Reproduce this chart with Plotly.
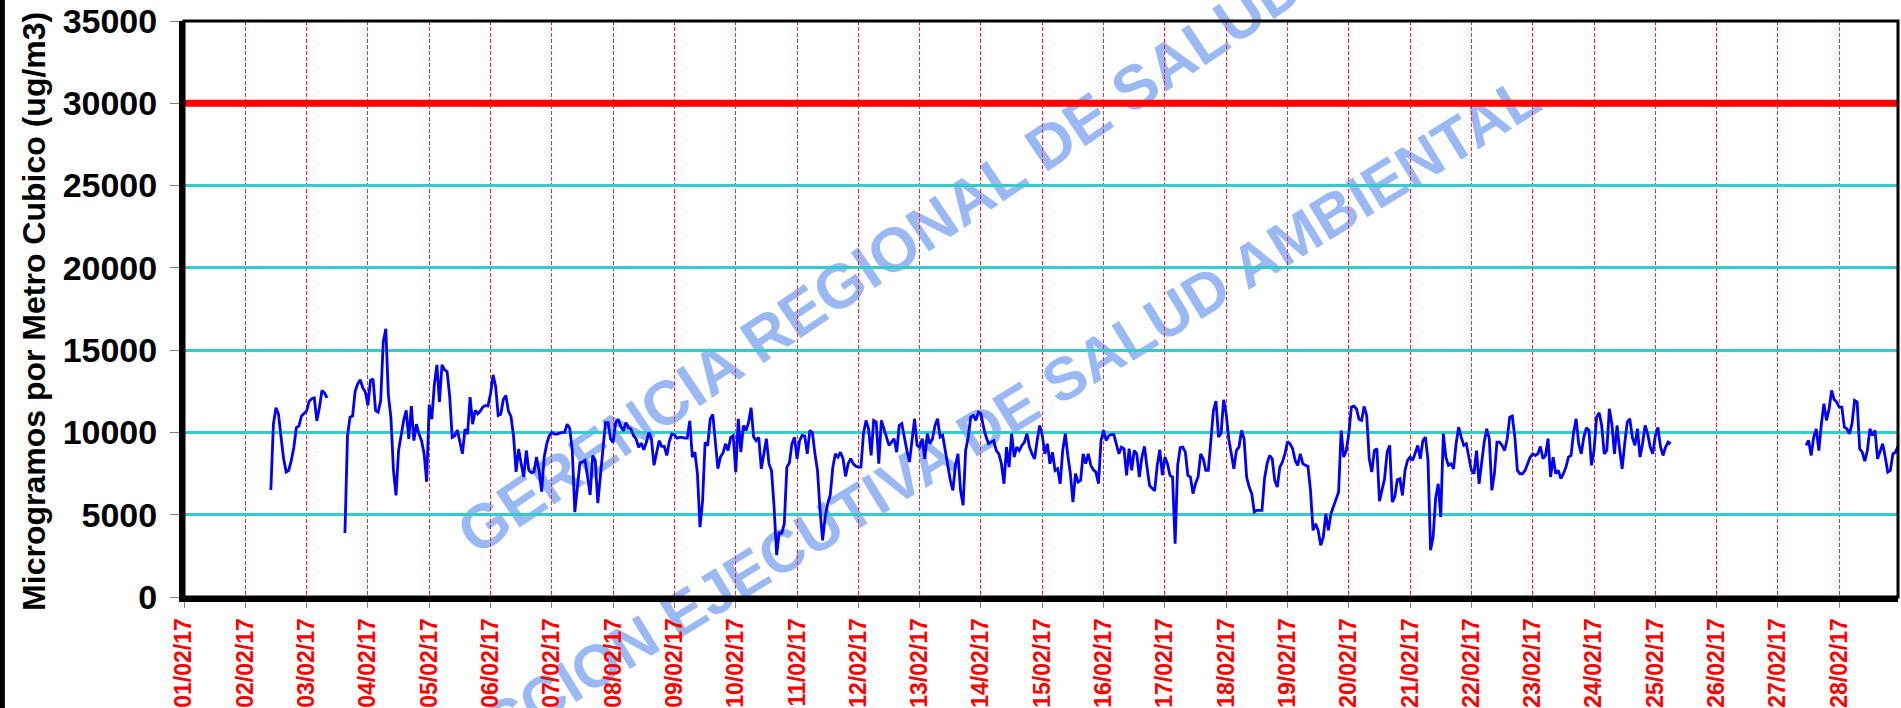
import pandas as pd
import plotly.graph_objects as go

# ---------------- data ----------------
y_title = "Microgramos por Metro Cubico (ug/m3)"
y_tick_values = [0, 5000, 10000, 15000, 20000, 25000, 30000, 35000]
day_ticks = ["2017-02-%02d" % d for d in range(1, 29)]
day_labels = ["01/02/17", "02/02/17", "03/02/17", "04/02/17", "05/02/17", "06/02/17", "07/02/17",
              "08/02/17", "09/02/17", "10/02/17", "11/02/17", "12/02/17", "13/02/17", "14/02/17",
              "15/02/17", "16/02/17", "17/02/17", "18/02/17", "19/02/17", "20/02/17", "21/02/17",
              "22/02/17", "23/02/17", "24/02/17", "25/02/17", "26/02/17", "27/02/17", "28/02/17"]
x_range = ["2017-02-01 00:00", "2017-02-28 23:00"]
limit_value = 30000
watermark_texts = ["GERENCIA REGIONAL DE SALUD", "DIRECCION EJECUTIVA DE SALUD AMBIENTAL"]

# hourly concentrations, segment 1 (02/02 10:00 - 03/02 08:00)
seg1_start = "2017-02-02 10:00"
seg1_values = [6500, 10500, 11500, 11100, 9700, 8400, 7600, 7700, 8300, 9100, 10300, 10400, 11000, 11130,
               11300, 11900, 12050, 12100, 10700, 11500, 12550, 12400, 12100]

# segment 2 (03/02 15:00 - 25/02 06:00)
seg2_start = "2017-02-03 15:00"
seg2_values = (
    [3890, 9800, 10930, 11000, 12500, 12950, 13200, 12700, 12450] +
    [11640, 13150, 13260, 11340, 11230, 11940, 15500, 16300, 12300, 10900, 7700, 6170, 8900, 9820, 10730, 11340, 9600, 11600, 9500, 10500, 9900, 9500, 8700, 7000] +
    [11700, 10800, 12900, 14100, 11850, 14100, 13800, 13700, 12200, 9700, 9800, 10150, 9300, 8700, 10200, 9900, 12150, 10500, 11340, 11130, 11300, 11540, 11640, 11600] +
    [12350, 13500, 12800, 11030, 11100, 12000, 12250, 11300, 10970, 9800, 7600, 9000, 8100, 7300, 8900, 7700, 7550, 7600, 8500, 7700, 6400, 8500, 9300, 9800] +
    [10000, 9900, 9900, 9950, 10000, 10000, 10500, 10250, 8900, 5160, 6880, 8150, 8200, 8300, 7300, 6200, 8600, 8300, 5700, 7200, 9000, 10600, 10600, 9600] +
    [9400, 10600, 10800, 10350, 10100, 10600, 10300, 10200, 9800, 9600, 9100, 9350, 8950, 9400, 10000, 9600, 8000, 8800, 9500, 9150, 9150, 8600, 9450, 9900] +
    [9850, 9650, 9700, 9700, 9650, 9650, 10700, 8500, 8800, 7490, 4250, 5800, 9400, 9200, 10800, 11100, 9400, 7800, 8500, 8750, 9310, 8900, 9700, 9800] +
    [7590, 10830, 8800, 10420, 10120, 10600, 11500, 9720, 9500, 9700, 7790, 8700, 9620, 8100, 7690, 5500, 2550, 3900, 3880, 4450, 7890, 8150, 9310, 9700] +
    [8400, 9500, 9820, 9780, 8700, 10120, 10000, 8700, 7690, 5260, 3440, 4860, 5670, 6200, 7890, 8700, 8500, 8800, 8400, 7330, 8100, 8400, 8100, 7940] +
    [7890, 7890, 9920, 10730, 10220, 8600, 10730, 10630, 8100, 10730, 10220, 9720, 9210, 9410, 9620, 8800, 10420, 10530, 9620, 8900, 8200, 9620, 10830, 9210] +
    [9110, 9620, 8400, 9920, 9310, 9600, 10420, 10830, 9720, 9820, 8900, 8100, 7090, 6480, 8000, 8700, 6480, 5570, 8900, 9720, 10930, 11030, 10730, 11230] +
    [11130, 10320, 9720, 9310, 9410, 9500, 8900, 8700, 8100, 6880, 9110, 7890, 9920, 8500, 9110, 8900, 9210, 9410, 9920, 9110, 8700, 8400, 9520, 10420] +
    [9820, 8700, 9310, 8100, 8800, 7690, 7800, 6880, 8900, 9920, 8600, 7490, 5770, 7490, 6990, 7090, 8700, 8100, 8700, 8000, 7730, 7590, 6880, 9510] +
    [10120, 9510, 9800, 9870, 9880, 9310, 8700, 9110, 9000, 7390, 9010, 7690, 8900, 8700, 7290, 8500, 9150, 7890, 6780, 6600, 6450, 8000, 8950, 7400] +
    [8500, 8100, 7390, 7290, 3240, 8000, 9070, 9110, 8800, 7390, 7290, 6280, 6900, 7290, 8700, 8400, 7690, 7690, 9720, 11340, 11900, 9720, 9950, 11980] +
    [11130, 9600, 8700, 7790, 8900, 9110, 10120, 9620, 7290, 6680, 6280, 5160, 5260, 5260, 5260, 7190, 8100, 8600, 8400, 7090, 6680, 7890, 8200, 8700] +
    [9450, 9310, 9010, 8300, 8000, 8700, 8100, 8000, 7940, 6480, 4050, 4450, 4050, 3140, 3640, 5060, 4050, 5060, 5470, 5870, 6380, 10120, 8500, 8900] +
    [9920, 11540, 11600, 11440, 10800, 10730, 11580, 11030, 8400, 7590, 8900, 9010, 5820, 6500, 7190, 8800, 9210, 5770, 6080, 7130, 7190, 6170, 7690, 8300] +
    [8500, 8300, 8700, 9210, 8400, 9510, 9720, 8300, 2840, 3640, 6000, 6880, 4860, 9920, 8500, 8000, 8100, 7790, 9310, 10320, 9720, 9210, 9310, 8500] +
    [7690, 7490, 8900, 6880, 8100, 9410, 10220, 9620, 6480, 7500, 9410, 9410, 9210, 8900, 9600, 10930, 11000, 9720, 7690, 7490, 7490, 7690, 8100, 8500] +
    [8700, 8600, 8700, 9150, 8400, 8600, 9620, 7290, 8500, 7490, 7690, 7190, 7490, 7890, 8500, 8600, 10000, 10830, 9310, 8700, 9700, 10280, 10120, 8000] +
    [8900, 10930, 11200, 10420, 8700, 8900, 11440, 10500, 8700, 10420, 9000, 7790, 9310, 10630, 10830, 9700, 9210, 10220, 8500, 9310, 10420, 9920, 9110, 8700] +
    [9800, 10300, 9150, 8600, 9100, 9410, 9310]
)

# segment 3 (27/02 11:00 - 28/02 23:00)
seg3_start = "2017-02-27 11:00"
seg3_values = [9210, 9510, 8600, 9720, 10220, 8900, 10500, 11740, 10730, 11400,
               12550, 12000, 11840, 11540, 11540, 10320, 10220, 9920, 10530, 11940,
               11840, 9010, 8800, 8260, 8900, 10220, 9820, 10120, 8400, 8900,
               9310, 8500, 7590, 7690, 8700, 8800, 9150]

# ---------------- build hourly series ----------------
full_index = pd.date_range(x_range[0], x_range[1], freq="h")
series = pd.Series(float("nan"), index=full_index)
for start, vals in [(seg1_start, seg1_values), (seg2_start, seg2_values), (seg3_start, seg3_values)]:
    idx = pd.date_range(start, periods=len(vals), freq="h")
    series.loc[idx] = vals

FONT = "Liberation Sans, Arial, sans-serif"

fig = go.Figure()
fig.add_trace(go.Scatter(
    x=[pd.Timestamp(x_range[0]), pd.Timestamp(x_range[1])], y=[limit_value, limit_value],
    mode="lines", line=dict(color="#FF0000", width=7), showlegend=False, hoverinfo="skip"))
fig.add_trace(go.Scatter(
    x=series.index, y=series.values, mode="lines", connectgaps=False,
    line=dict(color="#0000FF", width=2.8), showlegend=False))

shapes = [
    # plot frame (top/right thinner)
    dict(type="rect", xref="paper", yref="paper", x0=0, x1=1, y0=0, y1=1,
         line=dict(color="black", width=3), layer="above"),
    # outer chart border on the left edge of the image
    dict(type="rect", xref="paper", yref="paper", x0=-0.1074, x1=-0.1045, y0=-0.195, y1=1.04,
         line=dict(width=0), fillcolor="black", layer="above"),
]
wm_specs = [(0.404, 0.596, -34, 62), (0.445, 0.266, -31.5, 60)]
for text, (cx, cy, ang, size) in zip(watermark_texts, wm_specs):
    shapes.append(dict(
        type="rect", xref="paper", yref="paper", x0=cx - 0.005, x1=cx + 0.005, y0=cy - 0.005, y1=cy + 0.005,
        line=dict(width=0), fillcolor="rgba(0,0,0,0)", layer="below",
        label=dict(text=text, textangle=ang, textposition="middle center",
                   font=dict(family="Liberation Sans Narrow, Liberation Sans, Arial", size=size,
                             color="rgba(120,162,240,0.75)", weight="bold"))))

fig.update_layout(
    template="none",
    width=1901, height=708,
    margin=dict(l=184, r=3, t=21, b=111, pad=0, autoexpand=False),
    paper_bgcolor="white", plot_bgcolor="white",
    shapes=shapes,
    annotations=[dict(text=y_title, xref="paper", yref="paper", x=-0.0875, y=0.495,
                      xanchor="center", yanchor="middle", textangle=-90, showarrow=False,
                      font=dict(family=FONT, size=32, color="black", weight="bold"))],
)
fig.update_xaxes(
    type="date", range=x_range, tickmode="array", tickvals=day_ticks, ticktext=day_labels,
    tickangle=-90, tickfont=dict(family=FONT, size=23, color="#FF0000", weight="bold"),
    showgrid=True, gridcolor="rgba(255,0,0,0.85)", gridwidth=1, griddash="4px,2px",
    ticks="outside", ticklen=6, tickcolor="#808080", tickwidth=1, ticklabelstandoff=1,
    showline=True, linecolor="black", linewidth=5, zeroline=False, automargin=False,
)
fig.update_yaxes(
    range=[0, 35000], tickmode="array", tickvals=y_tick_values,
    ticktext=[str(v) for v in y_tick_values],
    tickfont=dict(family=FONT, size=34, color="black", weight="bold"),
    showgrid=True, gridcolor="#33CCCC", gridwidth=3,
    ticks="outside", ticklen=9, tickcolor="#808080", tickwidth=1, ticklabelstandoff=6,
    showline=True, linecolor="black", linewidth=5, zeroline=False, automargin=False,
)

fig.write_html(
    "out.html",
    config={"displayModeBar": False},
    post_script="document.body.style.margin='0px';document.body.style.padding='0px';"
                "document.documentElement.style.overflow='hidden';",
)
